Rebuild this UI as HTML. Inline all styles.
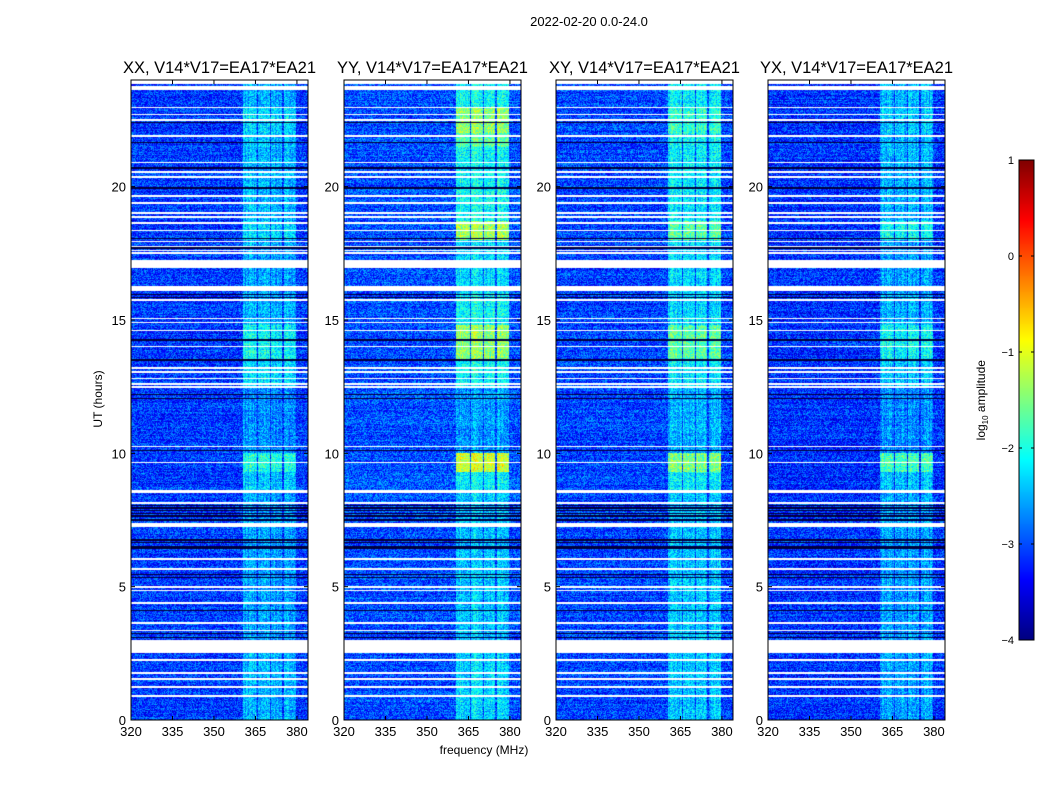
<!DOCTYPE html>
<html><head><meta charset="utf-8">
<style>
body{margin:0;background:#fff;}
#root{position:relative;width:1050px;height:800px;background:#fff;font-family:"Liberation Sans",sans-serif;color:#000;overflow:hidden;}
.t{position:absolute;white-space:nowrap;}
canvas{position:absolute;}
</style></head>
<body>
<div id="root">
<div class="t" style="left:489px;top:14px;width:200px;text-align:center;font-size:13px;">2022-02-20 0.0-24.0</div>
<div class="t" style="left:384px;top:743px;width:200px;text-align:center;font-size:12px;">frequency (MHz)</div>
<div class="t" style="left:48px;top:392px;width:100px;text-align:center;font-size:12px;transform:rotate(-90deg);">UT (hours)</div>
<div class="t" style="left:932px;top:392px;width:100px;text-align:center;font-size:12px;transform:rotate(-90deg);">log<sub style="font-size:8px">10</sub> amplitude</div>
<svg id="ov" width="1050" height="800" style="position:absolute;left:0;top:0"></svg>
</div>
<script>
// ---- data ----
const panelNames = ["XX","YY","XY","YX"];
const panelTitles = ["XX, V14*V17=EA17*EA21","YY, V14*V17=EA17*EA21","XY, V14*V17=EA17*EA21","YX, V14*V17=EA17*EA21"];
const xTicks = [320,335,350,365,380];
const yTicks = [0,5,10,15,20];
const cbTicks = [-4,-3,-2,-1,0,1];
const rfiBands = [[360.5,365.5],[366,370.2],[370.7,374.7],[375.2,379.6]];
const timeEdges = [0,3,8.6,9.3,10,12.5,13.5,14.8,16,18,18.7,21.5,22,23,24];
const bandXX = [-2.5,-2.6,-2.4,-2.0,-2.7,-2.3,-2.1,-2.5,-2.6,-2.3,-2.5,-2.4,-2.3,-2.5];
const bandYY = [-2.3,-2.4,-2.2,-1.1,-2.6,-2.1,-1.4,-2.1,-2.3,-1.3,-2.1,-1.7,-1.4,-2.1];
const bandXY = [-2.4,-2.4,-2.2,-1.5,-2.5,-2.2,-1.7,-2.3,-2.3,-1.7,-2.2,-2.1,-1.9,-2.2];
const bandYX = [-2.6,-2.6,-2.4,-1.8,-2.7,-2.4,-2.1,-2.5,-2.6,-2.1,-2.5,-2.5,-2.4,-2.5];
const bgLevels = [-3.1,-3.0,-3.05,-3.15];
const whiteGaps = [[23.85,24],[23.62,23.77],[16.95,17.25],[16.09,16.27],[8.51,8.62],[7.24,7.39],[6.0,6.07],[2.51,3.0]];
const whiteLines = [22.98,22.72,22.5,21.9,20.92,20.55,20.36,19.65,19.39,19.01,18.86,18.64,18.37,17.94,17.77,17.62,17.51,15.75,15.07,14.92,14.62,14.02,13.2,13.05,12.82,12.6,12.49,10.27,9.67,8.14,5.66,4.99,4.87,4.39,3.64,3.37,2.25,1.76,1.54,1.24,0.9];
const darkLines = [22.42,21.67,20.7,19.95,18.07,17.7,15.97,15.86,14.25,13.5,12.52,12.19,12.07,10.12,8.06,7.95,7.84,7.76,7.65,7.5,6.75,6.64,6.52,6.45,5.47,5.36,5.02,4.12,3.26,3.11];
const bandSets = [bandXX,bandYY,bandXY,bandYX];

// ---- layout ----
const panelX = [131,344,556,768], PW=177, PT=80, PH=640;
const F0=320, F1=384, H0=0, H1=24;
const vmin=-4, vmax=1;
function xs(f){return (f-F0)/(F1-F0)*PW;}
function ys(h){return PH-(h-H0)/(H1-H0)*PH;}
function jet(t){t=Math.max(0,Math.min(1,t));
 const r=Math.max(0,Math.min(1,1.5-Math.abs(4*t-3)));
 const g=Math.max(0,Math.min(1,1.5-Math.abs(4*t-2)));
 const b=Math.max(0,Math.min(1,1.5-Math.abs(4*t-1)));
 return [r*255,g*255,b*255];}
function hash(a,b,c){let h=(a*374761393+b*668265263+c*2147483647)|0;h=(h^(h>>>13))*1274126177|0;h=h^(h>>>16);return (h>>>0)/4294967296;}
const root=document.getElementById('root');
const ov=document.getElementById('ov');
const NS="http://www.w3.org/2000/svg";
function sv(tag,attrs){const e=document.createElementNS(NS,tag);for(const k in attrs)e.setAttribute(k,attrs[k]);ov.appendChild(e);return e;}

panelNames.forEach((pn,p)=>{
 const cv=document.createElement('canvas');
 
 
 cv.width=PW;cv.height=PH;cv.style.left=panelX[p]+'px';cv.style.top=PT+'px';
 root.insertBefore(cv,ov);
 const ctx=cv.getContext('2d');const img=ctx.createImageData(PW,PH);
 const levels=bandSets[p];
 for(let r=0;r<PH;r++){
  const h=H1-(r+0.5)/PH*(H1-H0);
  let white=whiteGaps.some(g=>h>=g[0]&&h<=g[1])||whiteLines.some(w=>Math.abs(h-w)<0.022);
  let dark=darkLines.some(w=>Math.abs(h-w)<0.019);
  let bi=0;for(let i=0;i<timeEdges.length-1;i++){if(h>=timeEdges[i]&&h<timeEdges[i+1])bi=i;}
  const rowN=(hash(r,7,p)-0.5)*0.3;
  for(let c=0;c<PW;c++){
   const k=(r*PW+c)*4;
   if(white){img.data[k]=255;img.data[k+1]=255;img.data[k+2]=255;img.data[k+3]=255;continue;}
   if(dark){img.data[k]=0;img.data[k+1]=0;img.data[k+2]=60;img.data[k+3]=255;continue;}
   const f=F0+(c+0.5)/PW*(F1-F0);
   let v=bgLevels[p]+rowN+(hash(c,r,p)-0.5)*1.0;
   if(rfiBands.some(b=>f>=b[0]&&f<=b[1])){
     v=levels[bi]+rowN*0.6+(hash(c,r,p+11)-0.5)*0.9+(hash(c,3,p)-0.5)*0.35;
   }
   const col=jet((v-vmin)/(vmax-vmin));
   img.data[k]=col[0];img.data[k+1]=col[1];img.data[k+2]=col[2];img.data[k+3]=255;
  }
 }
 ctx.putImageData(img,0,0);
 const X=panelX[p];
 sv('rect',{x:X,y:PT,width:PW,height:PH,fill:'none',stroke:'#000','stroke-width':1,});
 const tt=sv('text',{x:X+PW/2,y:PT-7,'text-anchor':'middle','font-size':16.5,'font-family':'Liberation Sans, sans-serif'});
 tt.textContent=panelTitles[p];
 
 
 xTicks.forEach(f=>{const x=X+xs(f);
  sv('line',{x1:x,x2:x,y1:PT,y2:PT+4,stroke:'#000'});
  sv('line',{x1:x,x2:x,y1:PT+PH,y2:PT+PH-4,stroke:'#000'});
  const t=sv('text',{x:x,y:PT+PH+16,'text-anchor':'middle','font-size':13,'font-family':'Liberation Sans, sans-serif'});
  t.textContent=f;
  
  });
 yTicks.forEach(h=>{const y=PT+ys(h);
  sv('line',{x1:X,x2:X+4,y1:y,y2:y,stroke:'#000'});
  sv('line',{x1:X+PW,x2:X+PW-4,y1:y,y2:y,stroke:'#000'});
  const t=sv('text',{x:X-5,y:y+5,'text-anchor':'end','font-size':13,'font-family':'Liberation Sans, sans-serif'});
  t.textContent=h;
  
  });
});

// colorbar
const CBX=1019,CBW=15,CBT=160,CBH=480;
const cb=document.createElement('canvas');


cb.width=CBW;cb.height=CBH;cb.style.left=CBX+'px';cb.style.top=CBT+'px';
root.insertBefore(cb,ov);
const cctx=cb.getContext('2d');
for(let r=0;r<CBH;r++){const c=jet(1-(r+0.5)/CBH);cctx.fillStyle=`rgb(${c[0]|0},${c[1]|0},${c[2]|0})`;cctx.fillRect(0,r,CBW,1);}
sv('rect',{x:CBX,y:CBT,width:CBW,height:CBH,fill:'none',stroke:'#000','stroke-width':1});
cbTicks.forEach(v=>{const y=CBT+CBH-(v-vmin)/(vmax-vmin)*CBH;
 sv('line',{x1:CBX,x2:CBX+3,y1:y,y2:y,stroke:'#000'});
 sv('line',{x1:CBX+CBW,x2:CBX+CBW-3,y1:y,y2:y,stroke:'#000'});
 const t=sv('text',{x:CBX-5,y:y+4,'text-anchor':'end','font-size':11,'font-family':'Liberation Sans, sans-serif'});
 t.textContent=v<0?'\u2212'+(-v):String(v);
 
 });
</script>
</body></html>
